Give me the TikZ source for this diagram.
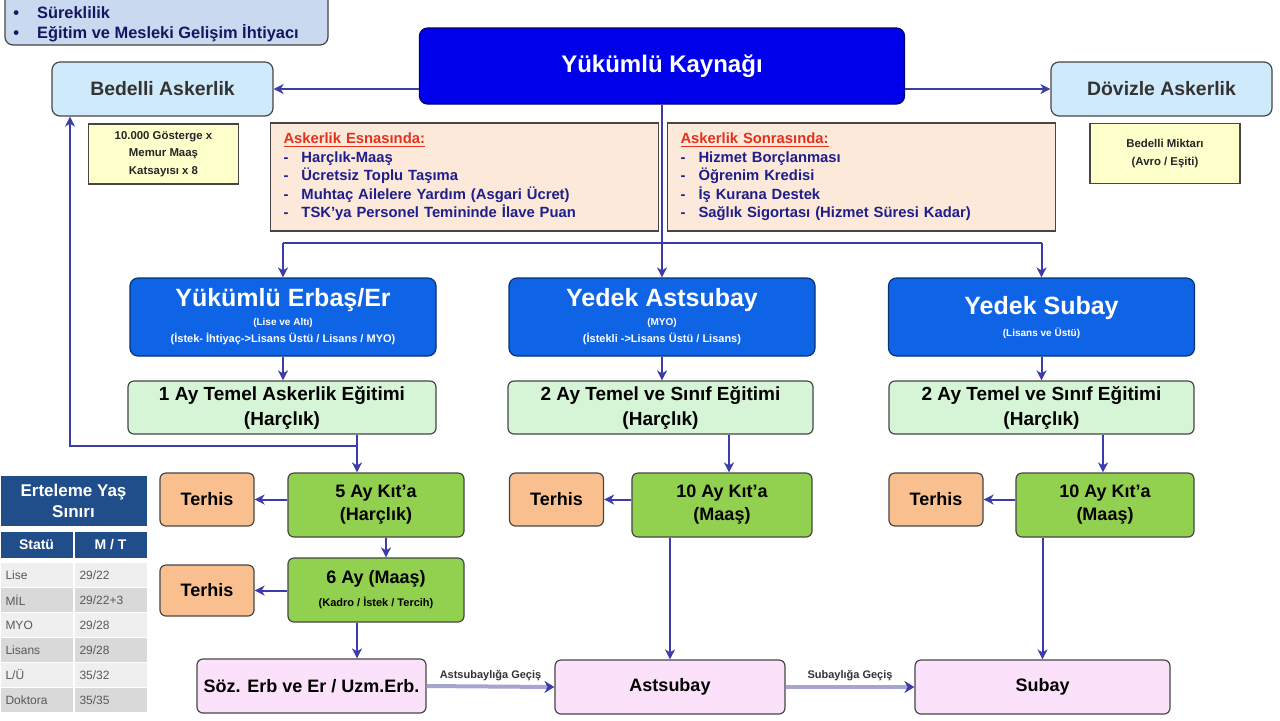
\documentclass[tikz,border=0pt]{standalone}
\usepackage{fontspec}
\setmainfont{Liberation Sans}
\usetikzlibrary{positioning,calc,arrows.meta}
\definecolor{srcblue}{RGB}{0,0,235}
\definecolor{headblue}{RGB}{15,100,230}
\definecolor{trainfill}{RGB}{214,245,214}
\definecolor{unitfill}{RGB}{146,208,80}
\definecolor{terhisfill}{RGB}{249,191,143}
\definecolor{endfill}{RGB}{252,225,250}
\definecolor{askfill}{RGB}{207,234,250}
\definecolor{infofill}{RGB}{201,218,240}
\definecolor{notefill}{RGB}{255,255,204}
\definecolor{listfill}{RGB}{253,233,217}
\definecolor{arrowblue}{RGB}{60,60,170}
\definecolor{listnavy}{RGB}{30,30,140}
\definecolor{headred}{RGB}{225,50,30}
\definecolor{tabblue}{RGB}{31,78,138}
\definecolor{rowa}{RGB}{239,239,239}
\definecolor{rowb}{RGB}{217,217,217}
\definecolor{boxline}{RGB}{70,70,70}
\newcommand{\fsz}[2]{\fontsize{#1}{#2}\selectfont}
\newcommand{\itm}[1]{\makebox[9pt][l]{-}#1}

\begin{document}
\begin{tikzpicture}
    \tikzset{x=0.5pt,y=-0.5pt,every path/.style={>={Stealth[length=5pt,width=5pt,inset=1.5pt]}},
      flowbox/.style={draw=boxline,line width=0.6pt,inner sep=0pt,align=center},
      srcbox/.style={flowbox,rounded corners=4pt,fill=srcblue,draw=srcblue!50!black,text=white,font=\bfseries\fsz{12}{14},minimum width=242.5pt,minimum height=38pt},
      headbox/.style={flowbox,rounded corners=4pt,fill=headblue,draw=headblue!50!black,text=white,font=\bfseries,minimum width=153pt,minimum height=39pt},
      askbox/.style={flowbox,rounded corners=4pt,fill=askfill,text=black!80,font=\bfseries\fsz{9.7}{12},minimum width=110.5pt,minimum height=27pt},
      infobox/.style={flowbox,rounded corners=4pt,fill=infofill,minimum width=161.5pt,minimum height=32.5pt},
      infotext/.style={inner sep=0pt,text=listnavy!70!black,font=\bfseries\fsz{8.2}{10}},
      notebox/.style={flowbox,fill=notefill,text=black!85,font=\bfseries\fsz{5.7}{8.7},minimum width=75pt,minimum height=30pt},
      listbox/.style={flowbox,fill=listfill,align=left,text width=181pt,inner xsep=6.5pt,minimum height=54pt,text=listnavy,font=\bfseries\fsz{7.4}{9.25}},
      trainbox/.style={flowbox,rounded corners=3pt,fill=trainfill,font=\bfseries\fsz{9.5}{12.5},minimum width=154pt,minimum height=26.5pt},
      unitbox/.style={flowbox,rounded corners=3pt,fill=unitfill,font=\bfseries\fsz{9}{11.5},minimum width=88pt,minimum height=32pt},
      terhisbox/.style={flowbox,rounded corners=3pt,fill=terhisfill,font=\bfseries\fsz{9}{11},minimum width=47pt,minimum height=26.5pt},
      endbox/.style={flowbox,rounded corners=3pt,fill=endfill,font=\bfseries\fsz{9}{11},minimum height=27pt},
      link/.style={arrowblue,line width=1pt},
      pass/.style={line width=2pt,draw={rgb,255:red,165;green,165;blue,205},-{Stealth[length=5pt,width=6pt,color=arrowblue]}},
      passlabel/.style={font=\bfseries\fsz{5.5}{7},text=black!80,inner sep=1pt},
      tabcell/.style={draw=white,line width=0.5pt,inner sep=0pt,minimum height=12.5pt,text width=31.5pt,inner xsep=2.5pt,align=left,text=black!65,font=\fsz{6}{7}},
      tabhead/.style={draw=white,line width=0.5pt,fill=tabblue,text=white,inner sep=0pt,align=center,font=\bfseries\fsz{8.5}{10.5}}}
    \path[use as bounding box,fill=white] (0,0) rectangle (1280,720);

    % top row
    \node[infobox] (info) at (166.5,12.5) {};
    \node[infotext,anchor=base west] (info1) at (13,18) {•\hspace{9pt}Süreklilik};
    \node[infotext,anchor=base west] (info2) at (13,38) {•\hspace{9pt}Eğitim ve Mesleki Gelişim İhtiyacı};
    \node[srcbox] (src) at (662,66) {Yükümlü Kaynağı};
    \node[askbox] (bedelli) at (162.5,89) {Bedelli Askerlik};
    \node[askbox] (doviz) at (1161.5,89) {Dövizle Askerlik};
    \node[notebox] (bnote) at (163.5,154) {10.000 Gösterge x\\Memur Maaş\\Katsayısı x 8};
    \node[notebox] (dnote) at (1165,153.5) {Bedelli Miktarı\\(Avro / Eşiti)};
    \node[listbox] (during) at (464.5,177) {\textcolor{headred}{\underline{Askerlik Esnasında:}}\\\itm{Harçlık-Maaş}\\\itm{Ücretsiz Toplu Taşıma}\\\itm{Muhtaç Ailelere Yardım (Asgari Ücret)}\\\itm{TSK'ya Personel Temininde İlave Puan}};
    \node[listbox] (after) at (861.5,177) {\textcolor{headred}{\underline{Askerlik Sonrasında:}}\\\itm{Hizmet Borçlanması}\\\itm{Öğrenim Kredisi}\\\itm{İş Kurana Destek}\\\itm{Sağlık Sigortası (Hizmet Süresi Kadar)}};

    % three columns
    \node[headbox] (erbas) at (283,317) {\fsz{12.5}{13}Yükümlü Erbaş/Er\\[-2.5pt]\fsz{5}{8}(Lise ve Altı)\\[-3.5pt]\fsz{5.5}{7}(İstek- İhtiyaç->Lisans Üstü / Lisans / MYO)};
    \node[headbox] (yastsb) at (662,317) {\fsz{12.5}{13}Yedek Astsubay\\[-2.5pt]\fsz{5}{8}(MYO)\\[-3.5pt]\fsz{5.5}{7}(İstekli ->Lisans Üstü / Lisans)};
    \node[headbox] (ysubay) at (1041.5,317) {\fsz{12.5}{13}Yedek Subay\\[-1pt]\fsz{5}{8}(Lisans ve Üstü)};
    \node[trainbox] (train1) at (282,407.5) {1 Ay Temel Askerlik Eğitimi\\(Harçlık)};
    \node[trainbox,minimum width=152.5pt] (train2) at (660.5,407.5) {2 Ay Temel ve Sınıf Eğitimi\\(Harçlık)};
    \node[trainbox,minimum width=152.5pt] (train3) at (1041.5,407.5) {2 Ay Temel ve Sınıf Eğitimi\\(Harçlık)};
    \node[unitbox] (unit1) at (376,505) {5 Ay Kıt'a\\(Harçlık)};
    \node[unitbox] (maas1) at (376,590) {6 Ay (Maaş)\\\fsz{5.5}{7}(Kadro / İstek / Tercih)};
    \node[unitbox,minimum width=90pt] (unit2) at (722,505) {10 Ay Kıt'a\\(Maaş)};
    \node[unitbox,minimum width=89pt] (unit3) at (1105,505) {10 Ay Kıt'a\\(Maaş)};
    \node[terhisbox] (terhis1) at (207,499.5) {Terhis};
    \node[terhisbox,minimum height=25.5pt] (terhis2) at (207,590.5) {Terhis};
    \node[terhisbox] (terhis3) at (556.5,499.5) {Terhis};
    \node[terhisbox] (terhis4) at (936,499.5) {Terhis};
    \node[endbox,minimum width=114.5pt] (soz) at (311.5,686) {Söz. Erb ve Er / Uzm.Erb.};
    \node[endbox,minimum width=115pt] (astsubay) at (670,687) {Astsubay};
    \node[endbox,minimum width=127.5pt] (subay) at (1042.5,687) {Subay};

    % deferment table
    \node[tabhead,minimum width=73.5pt,minimum height=25.5pt] (erteleme) at (73.5,500.5) {Erteleme Yaş\\Sınırı};
    \node[tabhead,font=\bfseries\fsz{7}{8},minimum width=36.5pt,minimum height=13.5pt] (statu) at (36.5,544.5) {Statü};
    \node[tabhead,font=\bfseries\fsz{7}{8},minimum width=36.5pt,minimum height=13.5pt] (mthead) at (110.5,544.5) {M / T};
    \foreach \r/\st/\mt/\rc in {0/Lise/{29/22}/rowa,1/MİL/{29/22+3}/rowb,2/MYO/{29/28}/rowa,3/Lisans/{29/28}/rowb,4/{L/Ü}/{35/32}/rowa,5/Doktora/{35/35}/rowb}{
      \node[tabcell,fill=\rc,anchor=north west] (stat\r) at (0,{562+25*\r}) {\st};
      \node[tabcell,fill=\rc,anchor=north west] (mt\r) at (74,{562+25*\r}) {\mt};
    }

    % connectors
    \coordinate (split) at (662,243);
    \coordinate (t1) at (357,446);
    \coordinate (b1) at (70,446);
    \draw[link,->] (bedelli -| src.west) -- (bedelli.east);
    \draw[link,->] (doviz -| src.east) -- (doviz.west);
    \draw[link,->] (src.south) -- (yastsb.north);
    \draw[link] (erbas.north |- split) -- (ysubay.north |- split);
    \draw[link,->] (erbas.north |- split) -- (erbas.north);
    \draw[link,->] (ysubay.north |- split) -- (ysubay.north);
    \draw[link,->] (erbas.south) -- (erbas.south |- train1.north);
    \draw[link,->] (yastsb.south) -- (yastsb.south |- train2.north);
    \draw[link,->] (ysubay.south) -- (ysubay.south |- train3.north);
    \draw[link,->] (t1 |- train1.south) -- (t1 |- unit1.north);
    \draw[link,->] (t1) -- (b1) -- (b1 |- bedelli.south);
    \draw[link,->] (729,0 |- train2.south) -- (729,0 |- unit2.north);
    \draw[link,->] (1103,0 |- train3.south) -- (1103,0 |- unit3.north);
    \draw[link,->] (unit1.west |- terhis1) -- (terhis1.east);
    \draw[link,->] (maas1.west |- terhis2) -- (terhis2.east);
    \draw[link,->] (unit2.west |- terhis3) -- (terhis3.east);
    \draw[link,->] (unit3.west |- terhis4) -- (terhis4.east);
    \draw[link,->] ([xshift=5pt]unit1.south) -- ([xshift=5pt]maas1.north);
    \draw[link,->] (t1 |- maas1.south) -- (t1 |- soz.north);
    \draw[link,->] (astsubay.north |- unit2.south) -- (astsubay.north);
    \draw[link,->] (subay.north |- unit3.south) -- (subay.north);
    \draw[pass] (soz.east) -- node[above=1pt,passlabel] {Astsubaylığa Geçiş} (astsubay.west);
    \draw[pass] (astsubay.east) -- node[above=1pt,passlabel] {Subaylığa Geçiş} (subay.west);
\end{tikzpicture}
\end{document}
